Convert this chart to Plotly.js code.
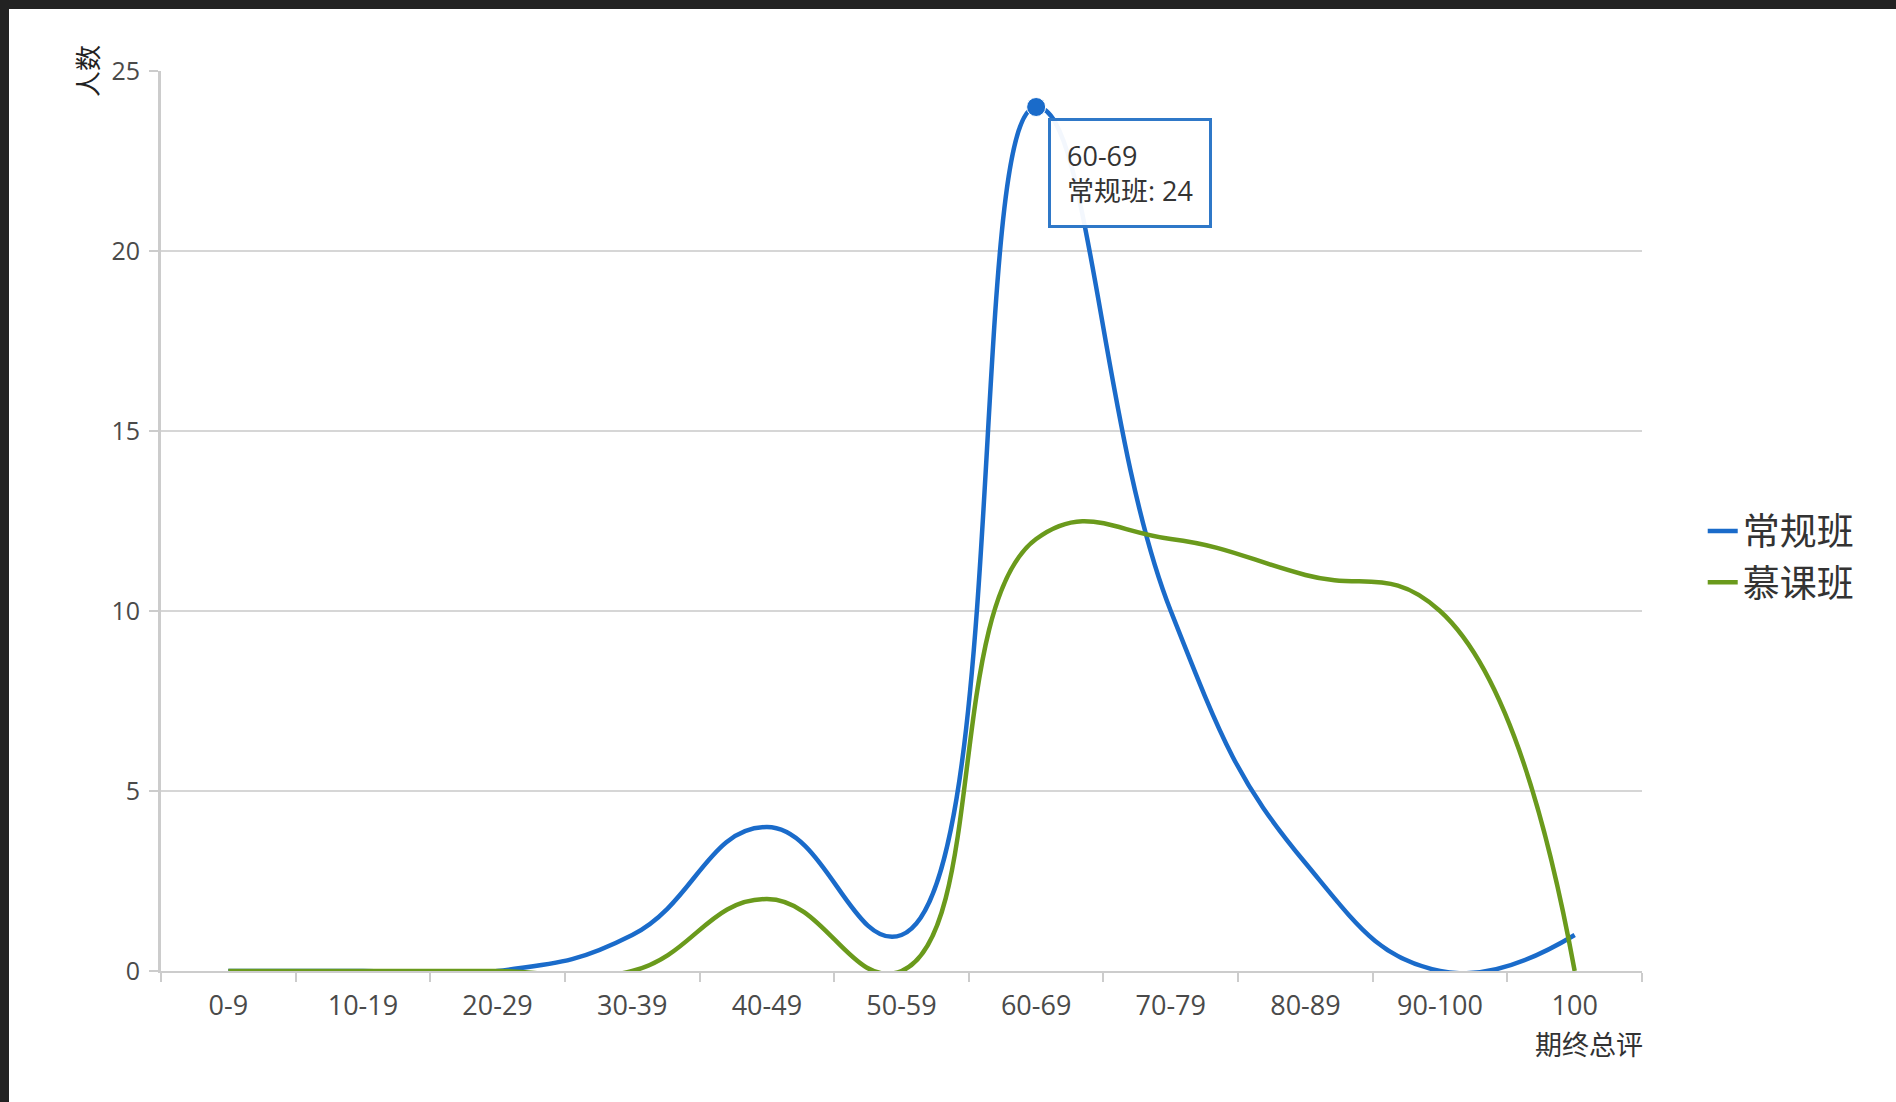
<!DOCTYPE html>
<html>
<head>
<meta charset="utf-8">
<script src="https://cdn.plot.ly/plotly-3.0.1.min.js"></script>
<style>
  html, body { margin: 0; padding: 0; background: #222222; width: 1896px; height: 1102px; overflow: hidden; }
  #chart { position: absolute; left: 9px; top: 9px; width: 1887px; height: 1093px; background: #ffffff; }
</style>
</head>
<body>
<div id="chart"></div>
<script>
// ---- data ----
const categories = ['0-9', '10-19', '20-29', '30-39', '40-49', '50-59', '60-69', '70-79', '80-89', '90-100', '100'];
const seriesNames = ['常规班', '慕课班'];
const regularClass = [0, 0, 0, 1, 4, 1, 24, 10, 3, 0, 1];
const moocClass = [0, 0, 0, 0, 2, 0, 12, 12, 11, 10, 0];
const yTickValues = [0, 5, 10, 15, 20, 25];
const highlightIndex = 6;
const xAxisTitle = '期终总评';
const yAxisTitle = '人数';

const FONT = '"Open Sans", "Noto Sans CJK SC", sans-serif';
const BLUE = '#1a6bca';
const GREEN = '#6a9a1c';

const traces = [
  {
    type: 'scatter', mode: 'lines', name: seriesNames[0],
    x: categories, y: regularClass,
    line: { color: BLUE, width: 4.5, shape: 'spline', smoothing: 1.3 }
  },
  {
    type: 'scatter', mode: 'lines', name: seriesNames[1],
    x: categories, y: moocClass,
    line: { color: GREEN, width: 4.5, shape: 'spline', smoothing: 1.3 }
  },
  {
    type: 'scatter', mode: 'markers', showlegend: false,
    x: [categories[highlightIndex]], y: [regularClass[highlightIndex]],
    marker: { color: BLUE, size: 19, line: { color: '#ffffff', width: 1 } },
    cliponaxis: false
  }
];

const layout = {
  width: 1887, height: 1093,
  paper_bgcolor: '#ffffff', plot_bgcolor: '#ffffff',
  margin: { l: 152, r: 254, t: 62, b: 131 },
  font: { family: FONT, color: '#4a4a4a', size: 25 },
  hovermode: false,
  showlegend: true,
  legend: {
    x: 1.041, xanchor: 'left', y: 0.46, yanchor: 'middle',
    font: { family: FONT, size: 37, color: '#333333' },
    bgcolor: 'rgba(0,0,0,0)'
  },
  xaxis: {
    type: 'category',
    range: [-0.5, categories.length - 0.5],
    showgrid: false, zeroline: false,
    showline: true, linecolor: '#cccccc', linewidth: 2,
    ticks: 'outside', tickson: 'boundaries', ticklen: 9, tickcolor: '#cccccc', tickwidth: 2,
    ticklabelstandoff: 10,
    tickfont: { family: FONT, size: 27, color: '#4a4a4a' }
  },
  yaxis: {
    range: [0, 25],
    tickvals: yTickValues,
    showgrid: true, gridcolor: '#d6d6d6', gridwidth: 2,
    zeroline: false,
    showline: true, linecolor: '#cccccc', linewidth: 3,
    ticks: 'outside', ticklen: 9, tickcolor: '#cccccc', tickwidth: 2,
    ticklabelstandoff: 4,
    tickfont: { family: FONT, size: 25, color: '#4a4a4a' }
  },
  annotations: [
    {
      xref: 'paper', yref: 'paper', x: -0.0493, y: 1.0,
      text: yAxisTitle, textangle: -90, showarrow: false,
      xanchor: 'center', yanchor: 'middle',
      font: { family: FONT, size: 26, color: '#222222' }
    },
    {
      xref: 'paper', yref: 'paper', x: 0.964, y: -0.082,
      text: xAxisTitle, showarrow: false,
      xanchor: 'center', yanchor: 'middle',
      font: { family: FONT, size: 27, color: '#333333' }
    },
    {
      xref: 'x', yref: 'y',
      x: categories[highlightIndex], y: regularClass[highlightIndex],
      xshift: 12, yshift: -11,
      xanchor: 'left', yanchor: 'top', align: 'left',
      text: categories[highlightIndex] + '<br>' + seriesNames[0] + ': ' + regularClass[highlightIndex],
      showarrow: false,
      bgcolor: 'rgba(255,255,255,0.95)', bordercolor: '#2f78c8', borderwidth: 3, borderpad: 16,
      font: { family: FONT, size: 27, color: '#333333' }
    }
  ]
};

Plotly.newPlot('chart', traces, layout, { displayModeBar: false, staticPlot: true });
</script>
</body>
</html>
